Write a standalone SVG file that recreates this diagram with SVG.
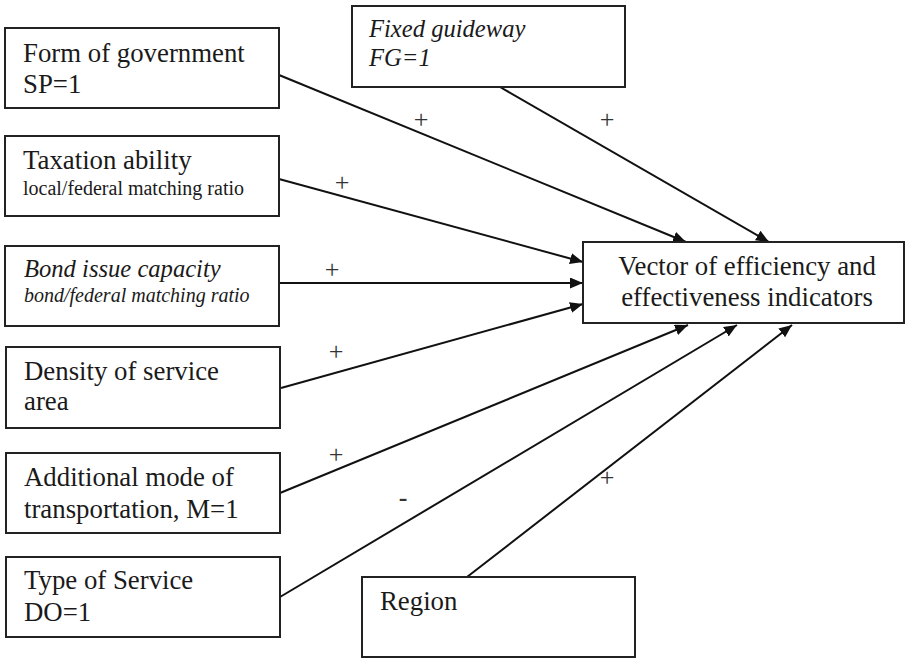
<svg xmlns="http://www.w3.org/2000/svg" width="906" height="658" viewBox="0 0 906 658">
<style>
.box{fill:#fff;stroke:#222;stroke-width:2}
.t{font-family:"Liberation Serif","Times New Roman",serif;font-size:26.8px;fill:#1a1a1a}
.s{font-size:20px}
.i{font-style:italic;font-size:24.6px}
.s.i{font-size:20px}
.c line{stroke:#111;stroke-width:2;marker-end:url(#ah)}
.sign{font-family:"Liberation Serif","Times New Roman",serif;font-size:26px;fill:#333}
</style>
<defs>
<marker id="ah" markerUnits="userSpaceOnUse" markerWidth="14" markerHeight="12" refX="13" refY="5.5" orient="auto">
<path d="M0,0 L13,5.5 L0,11 z" fill="#111"/>
</marker>
</defs>
<rect width="906" height="658" fill="#fff"/>
<g class="c" id="connectors">
<line x1="279" y1="75" x2="686" y2="242"/>
<line x1="500" y1="87" x2="769" y2="242"/>
<line x1="279" y1="179" x2="583" y2="262"/>
<line x1="279" y1="283" x2="583" y2="283"/>
<line x1="281" y1="388" x2="583" y2="304"/>
<line x1="280" y1="493" x2="688" y2="325"/>
<line x1="280" y1="597" x2="737" y2="325"/>
<line x1="467" y1="577" x2="792" y2="325"/>
</g>
<g id="signs">
<text class="sign" x="421" y="128" text-anchor="middle">+</text>
<text class="sign" x="607" y="128" text-anchor="middle">+</text>
<text class="sign" x="342" y="191" text-anchor="middle">+</text>
<text class="sign" x="332" y="278" text-anchor="middle">+</text>
<text class="sign" x="336" y="360" text-anchor="middle">+</text>
<text class="sign" x="336" y="463" text-anchor="middle">+</text>
<text class="sign" x="403" y="506" text-anchor="middle" style="font-weight:bold">-</text>
<text class="sign" x="607" y="486" text-anchor="middle">+</text>
</g>
<g id="n-form">
<rect class="box" x="5" y="28" width="274" height="80"/>
<text class="t" x="23" y="62">Form of government</text>
<text class="t" x="23" y="93">SP=1</text>
</g>
<g id="n-tax">
<rect class="box" x="5" y="136" width="274" height="80"/>
<text class="t" x="23" y="169">Taxation ability</text>
<text class="t s" x="23" y="195">local/federal matching ratio</text>
</g>
<g id="n-bond">
<rect class="box" x="5" y="246" width="274" height="80"/>
<text class="t i" x="24" y="277">Bond issue capacity</text>
<text class="t s i" x="24" y="302">bond/federal matching ratio</text>
</g>
<g id="n-density">
<rect class="box" x="6" y="347" width="274" height="81"/>
<text class="t" x="24" y="380">Density of service</text>
<text class="t" x="24" y="410">area</text>
</g>
<g id="n-mode">
<rect class="box" x="6" y="453" width="274" height="80"/>
<text class="t" x="24" y="486">Additional mode of</text>
<text class="t" x="24" y="518">transportation, M=1</text>
</g>
<g id="n-type">
<rect class="box" x="6" y="557" width="274" height="80"/>
<text class="t" x="24" y="589">Type of Service</text>
<text class="t" x="24" y="621">DO=1</text>
</g>
<g id="n-fixed">
<rect class="box" x="352" y="6" width="273" height="81"/>
<text class="t i" x="369" y="37">Fixed guideway</text>
<text class="t i" x="369" y="66">FG=1</text>
</g>
<g id="n-region">
<rect class="box" x="362" y="577" width="273" height="80"/>
<text class="t" x="380" y="610">Region</text>
</g>
<g id="n-vector">
<rect class="box" x="583" y="242" width="321" height="81"/>
<text class="t" x="747" y="275" text-anchor="middle">Vector of efficiency and</text>
<text class="t" x="747" y="306" text-anchor="middle">effectiveness indicators</text>
</g>
</svg>
